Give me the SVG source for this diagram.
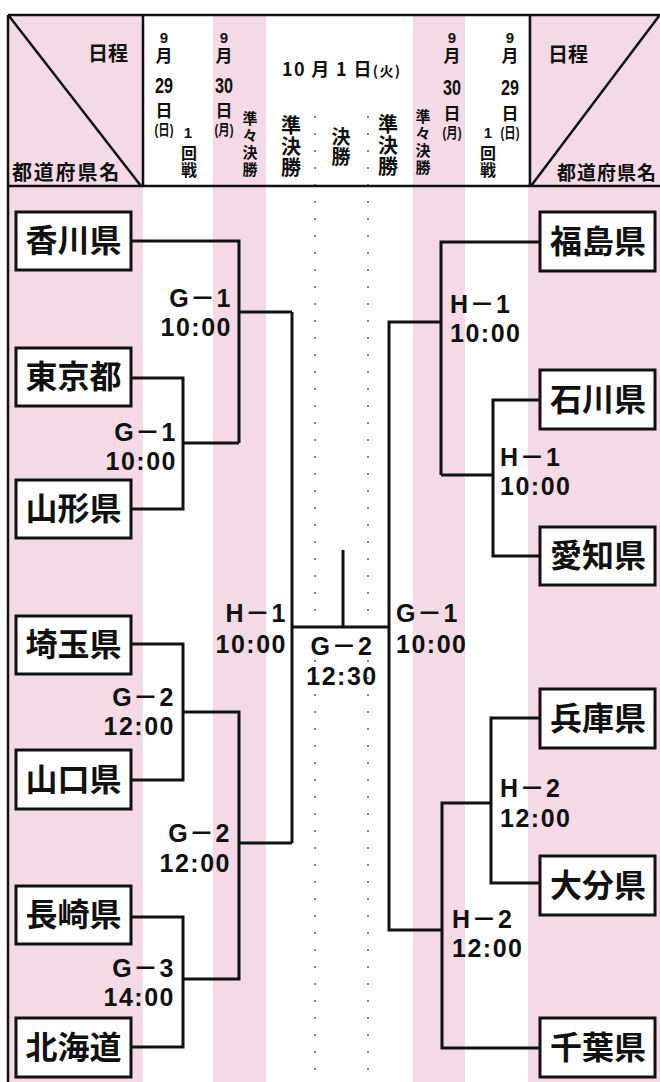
<svg xmlns="http://www.w3.org/2000/svg" width="660" height="1082" viewBox="0 0 660 1082">
<style>
.pk{fill:#f3dae4}
.ln{fill:none;stroke:#111;stroke-width:3}
.fr{fill:none;stroke:#111;stroke-width:2.5}
.dot{stroke:#9a8289;stroke-width:2;stroke-dasharray:2 15}
.box{fill:#fff;stroke:#111;stroke-width:3}
.bt{font-family:"Noto Sans CJK JP",sans-serif;font-weight:700;font-size:32px;fill:#111;text-anchor:middle}
.h{font-family:"Noto Sans CJK JP",sans-serif;font-weight:700;fill:#111}
.v{font-family:"Liberation Sans","Noto Sans CJK JP",sans-serif;font-weight:700;fill:#111;text-anchor:middle}
.vt{font-family:"Noto Sans CJK JP",sans-serif;font-weight:700;fill:#111;writing-mode:vertical-rl}
.lb{font-family:"Liberation Sans","Noto Sans CJK JP",sans-serif;font-weight:700;font-size:25px;fill:#111;letter-spacing:1.5px}
.e{text-anchor:end}
.m{text-anchor:middle}
</style>
<rect width="660" height="1082" fill="#fff"/>
<g id="background">
<rect class="pk" x="8" y="15" width="135" height="1067"/>
<rect class="pk" x="213" y="15" width="53" height="1067"/>
<rect class="pk" x="413" y="15" width="52" height="1067"/>
<rect class="pk" x="528" y="15" width="132" height="1067"/>
<line class="dot" x1="315" y1="116" x2="315" y2="1082"/>
<line class="dot" x1="368" y1="116" x2="368" y2="1082"/>
</g>
<g id="header">
<path class="fr" d="M8,15 H660 M8,15 V1082 M8,186 H660 M143,15 V186 M530,15 V186 M9,16 L141,186 M531,186 L659,16"/>
<text class="h e" x="128" y="61" font-size="20">日程</text>
<text class="h" x="12" y="180" font-size="20" letter-spacing="1.8">都道府県名</text>
<text class="h" x="548" y="62" font-size="20">日程</text>
<text class="h" x="557" y="180" font-size="19" letter-spacing="1">都道府県名</text>
<g id="colA" class="v">
<text x="164" y="43" font-size="15">9</text>
<text x="164" y="62" font-size="17">月</text>
<text x="164" y="93" font-size="22" textLength="18" lengthAdjust="spacingAndGlyphs">29</text>
<text x="164" y="117" font-size="17">日</text>
<text x="164" y="135" font-size="15" textLength="19" lengthAdjust="spacingAndGlyphs">(日)</text>
</g>
<text class="v" x="188" y="138" font-size="15">1</text>
<text class="vt" x="189" y="145" font-size="16" letter-spacing="0.5">回戦</text>
<g id="colB" class="v">
<text x="224" y="43" font-size="15">9</text>
<text x="224" y="62" font-size="17">月</text>
<text x="224" y="93" font-size="22" textLength="18" lengthAdjust="spacingAndGlyphs">30</text>
<text x="224" y="117" font-size="17">日</text>
<text x="224" y="135" font-size="15" textLength="19" lengthAdjust="spacingAndGlyphs">(月)</text>
</g>
<text class="vt" x="250" y="111" font-size="15" letter-spacing="2">準々決勝</text>
<text class="h" x="282" y="76" font-size="18" textLength="118" lengthAdjust="spacing" xml:space="preserve">10 月 1 日<tspan font-size="14">(火)</tspan></text>
<text class="vt" x="291" y="115" font-size="20" letter-spacing="1">準決勝</text>
<text class="vt" x="341" y="127" font-size="19" letter-spacing="1">決勝</text>
<text class="vt" x="388" y="114" font-size="20" letter-spacing="1">準決勝</text>
<text class="vt" x="423" y="109" font-size="15" letter-spacing="2">準々決勝</text>
<g id="colC" class="v">
<text x="452" y="43" font-size="15">9</text>
<text x="452" y="62" font-size="17">月</text>
<text x="452" y="95" font-size="22" textLength="18" lengthAdjust="spacingAndGlyphs">30</text>
<text x="452" y="120" font-size="17">日</text>
<text x="452" y="138" font-size="15" textLength="19" lengthAdjust="spacingAndGlyphs">(月)</text>
</g>
<text class="v" x="488" y="138" font-size="15">1</text>
<text class="vt" x="488" y="145" font-size="16" letter-spacing="0.5">回戦</text>
<g id="colD" class="v">
<text x="510" y="43" font-size="15">9</text>
<text x="510" y="62" font-size="17">月</text>
<text x="510" y="95" font-size="22" textLength="18" lengthAdjust="spacingAndGlyphs">29</text>
<text x="510" y="120" font-size="17">日</text>
<text x="510" y="138" font-size="15" textLength="19" lengthAdjust="spacingAndGlyphs">(日)</text>
</g>
</g>
<g id="connectors">
<path class="ln" d="M131,241 H239 V443 M131,378 H183 V509 H131 M183,443 H239 M239,312 H292 M131,644 H183 V780 H131 M183,712 H239 V979 H183 M131,917 H183 V1047 H131 M239,843 H292 M292,312 V843 M292,627 H389 M343,550 V627"/>
<path class="ln" d="M540,242 H441 V475 M540,400 H493 V556 H540 M493,475 H441 M441,322 H389 V930 H442 M540,718 H491 V883 H540 M491,803 H442 V1048 H540"/>
</g>
<g id="labels">
<text class="lb e" x="232" y="307">G－1</text><text class="lb e" x="232" y="336">10:00</text>
<text class="lb e" x="177" y="441">G－1</text><text class="lb e" x="177" y="470">10:00</text>
<text class="lb e" x="287" y="622">H－1</text><text class="lb e" x="287" y="653">10:00</text>
<text class="lb e" x="175" y="706">G－2</text><text class="lb e" x="175" y="735">12:00</text>
<text class="lb e" x="231" y="842">G－2</text><text class="lb e" x="231" y="872">12:00</text>
<text class="lb e" x="175" y="977">G－3</text><text class="lb e" x="175" y="1006">14:00</text>
<text class="lb m" x="342" y="655">G－2</text><text class="lb m" x="342" y="685">12:30</text>
<text class="lb" x="450" y="313">H－1</text><text class="lb" x="450" y="342">10:00</text>
<text class="lb" x="500" y="466">H－1</text><text class="lb" x="500" y="495">10:00</text>
<text class="lb" x="396" y="622">G－1</text><text class="lb" x="396" y="653">10:00</text>
<text class="lb" x="500" y="797">H－2</text><text class="lb" x="500" y="827">12:00</text>
<text class="lb" x="452" y="928">H－2</text><text class="lb" x="452" y="957">12:00</text>
</g>
<g id="kagawa"><rect class="box" x="16" y="212" width="115" height="58"/><text class="bt" x="73.5" y="252">香川県</text></g>
<g id="tokyo"><rect class="box" x="16" y="348" width="115" height="58"/><text class="bt" x="73.5" y="388">東京都</text></g>
<g id="yamagata"><rect class="box" x="16" y="480" width="115" height="58"/><text class="bt" x="73.5" y="520">山形県</text></g>
<g id="saitama"><rect class="box" x="16" y="616" width="115" height="58"/><text class="bt" x="73.5" y="656">埼玉県</text></g>
<g id="yamaguchi"><rect class="box" x="16" y="750" width="115" height="59"/><text class="bt" x="73.5" y="791">山口県</text></g>
<g id="nagasaki"><rect class="box" x="16" y="886" width="115" height="58"/><text class="bt" x="73.5" y="926">長崎県</text></g>
<g id="hokkaido"><rect class="box" x="16" y="1018" width="115" height="59"/><text class="bt" x="73.5" y="1059">北海道</text></g>
<g id="fukushima"><rect class="box" x="540" y="212" width="115" height="59"/><text class="bt" x="598" y="253">福島県</text></g>
<g id="ishikawa"><rect class="box" x="540" y="370" width="115" height="59"/><text class="bt" x="598" y="411">石川県</text></g>
<g id="aichi"><rect class="box" x="540" y="527" width="115" height="58"/><text class="bt" x="598" y="567">愛知県</text></g>
<g id="hyogo"><rect class="box" x="540" y="689" width="115" height="59"/><text class="bt" x="598" y="730">兵庫県</text></g>
<g id="oita"><rect class="box" x="540" y="856" width="115" height="59"/><text class="bt" x="598" y="897">大分県</text></g>
<g id="chiba"><rect class="box" x="540" y="1018" width="115" height="59"/><text class="bt" x="598" y="1059">千葉県</text></g>
</svg>
